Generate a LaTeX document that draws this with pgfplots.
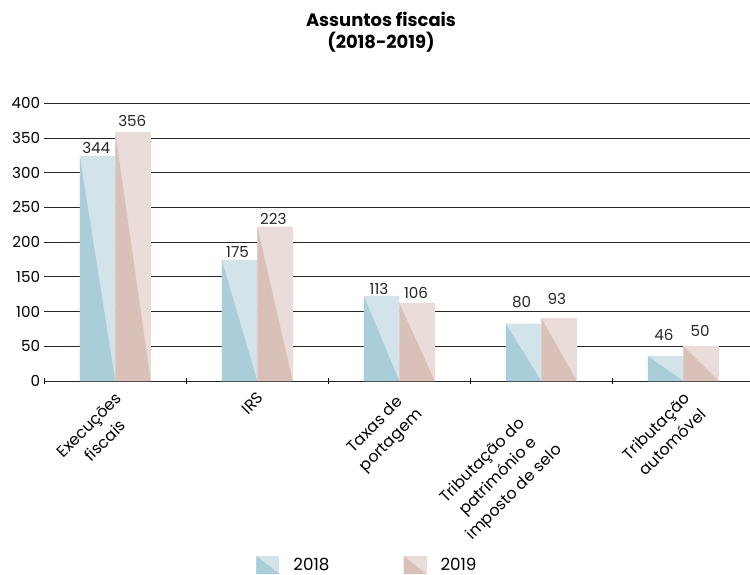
\documentclass[border=0pt]{standalone}
\usepackage{fontspec}
\setmainfont{Poppins}
\usepackage{pgfplots}
\pgfplotsset{compat=1.18}
\usepackage{pgfplotstable}

\definecolor{lb}{HTML}{D2E4E9}
\definecolor{db}{HTML}{AACED9}
\definecolor{lr}{HTML}{EADDD9}
\definecolor{dr}{HTML}{D9C1B9}

% bar heights as drawn
\pgfplotstableread{
x h
0 324
1 174.3
2 122.5
3 82.6
4 36
}\tA
\pgfplotstableread{
x h
0 358.5
1 222.3
2 112.4
3 90.8
4 50.4
}\tB
% value labels (baseline positions)
\pgfplotstableread{
x y lab
-0.134 328 344
0.120 366.3 356
0.861 178 175
1.1125 225.7 223
1.857 124.9 113
2.118 119.1 106
2.862 105.6 80
3.11 109.5 93
3.864 58 46
4.118 63.8 50
}\tL

\newcommand{\fs}{\fontsize{15.2}{18}\selectfont}
\newcommand{\fc}{\fontsize{16}{22.5}\selectfont}
\newcommand{\fl}{\fontsize{16.8}{20}\selectfont}

\begin{document}
\begin{tikzpicture}
\begin{axis}[
  at={(0,0)}, anchor=south west,
  scale only axis,
  width=705.7bp, height=277.7bp,
  xmin=-0.5, xmax=4.47, ymin=0, ymax=400,
  axis x line*=bottom, axis y line*=left,
  ytick={0,50,...,400},
  ymajorgrids, major grid style={black!85, line width=0.9bp},
  y axis line style={draw=none},
  x axis line style={black!85, line width=0.9bp},
  major y tick style={draw=none},
  xtick={0,1,2,4},
  xticklabels={{Execuções\\fiscais}, IRS, {Taxas de\\portagem}, {Tributação\\automóvel}},
  extra x ticks={3},
  extra x tick labels={{Tributação do\\património e\\imposto de selo}},
  extra x tick style={major tick length=0pt, xticklabel style={xshift=-28bp, yshift=-2bp}},
  major x tick style={draw=none},
  minor xtick={-0.5,0.5,1.5,2.5,3.5},
  minor x tick style={black, line width=0.8bp},
  minor tick length=6.5bp,
  xtick align=center,
  xticklabel style={rotate=45, anchor=north east, align=center, font=\fc, inner sep=2bp, xshift=-4bp, yshift=-3bp},
  yticklabel style={font=\fs, anchor=east, inner sep=4bp},
  /pgf/number format/assume math mode=true,
  legend style={draw=none, legend columns=2, at={(0.458,-0.6626)}, anchor=center, font=\fl,
    /tikz/every even column/.append style={column sep=72bp}},
]
\addplot[ybar, bar width=0.25, bar shift=-0.125, fill=lb, draw=none,
  legend image code/.code={\path (0bp,0bp) -- (35bp,0bp); \fill[lb] (0bp,-9bp) rectangle (23bp,9bp); \fill[db] (0bp,9bp)--(0bp,-9bp)--(23bp,-9bp)--cycle;}]
  table[x=x,y=h] {\tA};
\addlegendentry{2018}
\addplot[ybar, bar width=0.25, bar shift=0.125, fill=lr, draw=none,
  legend image code/.code={\path (0bp,0bp) -- (35bp,0bp); \fill[lr] (0bp,-9bp) rectangle (23bp,9bp); \fill[dr] (0bp,9bp)--(0bp,-9bp)--(23bp,-9bp)--cycle;}]
  table[x=x,y=h] {\tB};
\addlegendentry{2019}
% darker triangles 2018
\addplot[fill=db, draw=none, forget plot] coordinates {(-0.25,324) (-0.25,0) (0,0)};
\addplot[fill=db, draw=none, forget plot] coordinates {(0.75,174.3) (0.75,0) (1,0)};
\addplot[fill=db, draw=none, forget plot] coordinates {(1.75,122.5) (1.75,0) (2,0)};
\addplot[fill=db, draw=none, forget plot] coordinates {(2.75,82.6) (2.75,0) (3,0)};
\addplot[fill=db, draw=none, forget plot] coordinates {(3.75,36) (3.75,0) (4,0)};
% darker triangles 2019
\addplot[fill=dr, draw=none, forget plot] coordinates {(0,358.5) (0,0) (0.25,0)};
\addplot[fill=dr, draw=none, forget plot] coordinates {(1,222.3) (1,0) (1.25,0)};
\addplot[fill=dr, draw=none, forget plot] coordinates {(2,112.4) (2,0) (2.25,0)};
\addplot[fill=dr, draw=none, forget plot] coordinates {(3,90.8) (3,0) (3.25,0)};
\addplot[fill=dr, draw=none, forget plot] coordinates {(4,50.4) (4,0) (4.25,0)};
% value labels
\addplot[only marks, mark=none, forget plot, nodes near coords, point meta=explicit symbolic,
  nodes near coords style={anchor=base, inner sep=0pt, font=\fs, text=black!85}]
  table[x=x, y=y, meta=lab] {\tL};
\end{axis}
\node[font=\bfseries\fontsize{18}{21}\selectfont, anchor=base] at (336.7bp,354bp) {Assuntos fiscais};
\node[font=\bfseries\fontsize{18}{21}\selectfont, anchor=base] at (336.7bp,332bp) {(2018-2019)};
\pgfresetboundingbox
\path[use as bounding box] (-44.3bp,-194bp) rectangle (705.7bp,381bp);
\end{tikzpicture}
\end{document}
